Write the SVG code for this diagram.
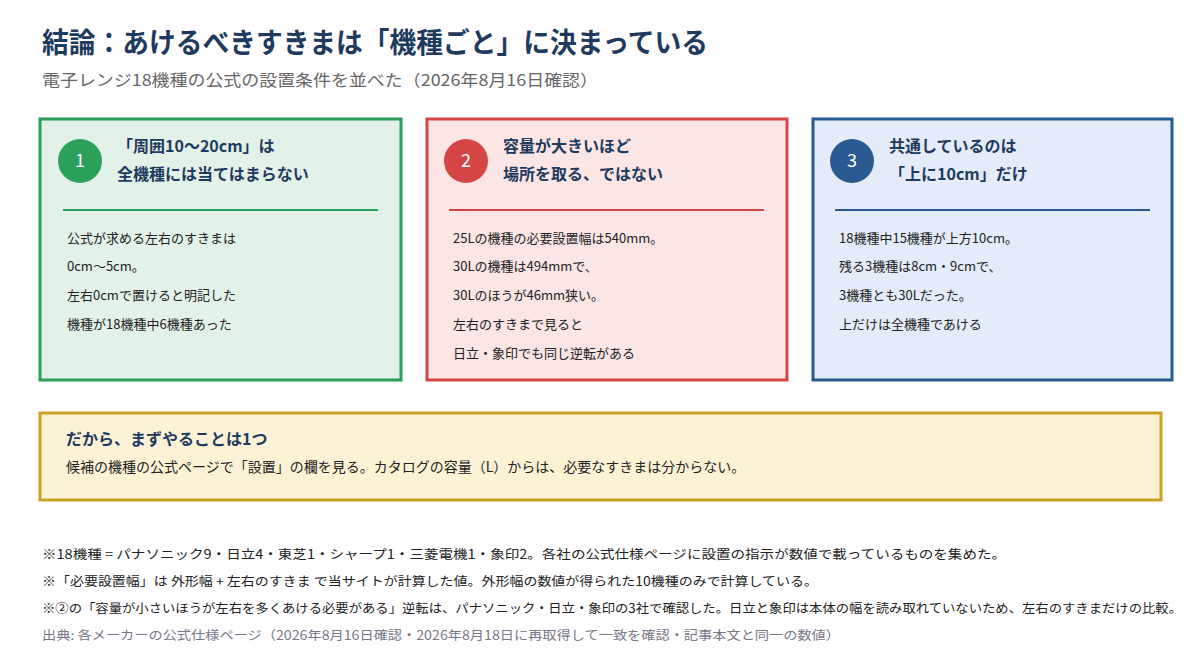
<svg xmlns="http://www.w3.org/2000/svg" width="1200" height="665" viewBox="0 0 1200 665">
<style>
text{font-family:"Noto Sans CJK JP","Noto Sans",sans-serif}
.h{font-size:16px;font-weight:bold;fill:#1f3a5f}
.b{font-size:13px;fill:#222}
.n{font-size:18px;fill:#fff;text-anchor:middle}
.f{font-size:12.5px;fill:#222}
</style>
<rect width="1200" height="665" fill="#fff"/>
<text x="42" y="53" font-weight="bold" fill="#1f3a5f" style="font-size:28px" textLength="666" lengthAdjust="spacingAndGlyphs">結論：あけるべきすきまは「機種ごと」に決まっている</text>
<text x="42" y="86" style="font-size:16px" fill="#666" textLength="556" lengthAdjust="spacingAndGlyphs">電子レンジ18機種の公式の設置条件を並べた（2026年8月16日確認）</text>
<g id="card1">
<rect x="40" y="119" width="361" height="261" fill="#e2f2e8" stroke="#2aa05a" stroke-width="3"/>
<circle cx="80" cy="161" r="22" fill="#2aa05a"/><text class="n" x="80" y="167">1</text>
<text class="h" x="117" y="152">「周囲10〜20cm」は</text>
<text class="h" x="117" y="180">全機種には当てはまらない</text>
<line x1="63" y1="210" x2="378" y2="210" stroke="#2aa05a" stroke-width="2"/>
<text class="b" x="67" y="243">公式が求める左右のすきまは</text>
<text class="b" x="67" y="271">0cm〜5cm。</text>
<text class="b" x="67" y="300">左右0cmで置けると明記した</text>
<text class="b" x="67" y="329">機種が18機種中6機種あった</text>
</g>
<g id="card2">
<rect x="427" y="119" width="360" height="261" fill="#fbe5e5" stroke="#d64545" stroke-width="3"/>
<circle cx="466" cy="161" r="22" fill="#d64545"/><text class="n" x="466" y="167">2</text>
<text class="h" x="503" y="152">容量が大きいほど</text>
<text class="h" x="503" y="180">場所を取る、ではない</text>
<line x1="449" y1="210" x2="764" y2="210" stroke="#d64545" stroke-width="2"/>
<text class="b" x="453" y="243">25Lの機種の必要設置幅は540mm。</text>
<text class="b" x="453" y="271">30Lの機種は494mmで、</text>
<text class="b" x="453" y="300">30Lのほうが46mm狭い。</text>
<text class="b" x="453" y="329">左右のすきまで見ると</text>
<text class="b" x="453" y="358">日立・象印でも同じ逆転がある</text>
</g>
<g id="card3">
<rect x="813" y="119" width="359" height="261" fill="#e3ecf8" stroke="#2a5a94" stroke-width="3"/>
<circle cx="852" cy="161" r="22" fill="#2a5a94"/><text class="n" x="852" y="167">3</text>
<text class="h" x="889" y="152">共通しているのは</text>
<text class="h" x="889" y="180">「上に10cm」だけ</text>
<line x1="835" y1="210" x2="1150" y2="210" stroke="#2a5a94" stroke-width="2"/>
<text class="b" x="839" y="243">18機種中15機種が上方10cm。</text>
<text class="b" x="839" y="271">残る3機種は8cm・9cmで、</text>
<text class="b" x="839" y="300">3機種とも30Lだった。</text>
<text class="b" x="839" y="329">上だけは全機種であける</text>
</g>
<g id="summary">
<rect x="40" y="413" width="1121" height="87" fill="#fcf3d6" stroke="#c9a227" stroke-width="3"/>
<text class="h" x="66" y="445">だから、まずやることは1つ</text>
<text class="b" x="66" y="472" style="font-size:14px">候補の機種の公式ページで「設置」の欄を見る。カタログの容量（L）からは、必要なすきまは分からない。</text>
</g>
<g id="notes">
<text class="f" x="42" y="559" textLength="964" lengthAdjust="spacingAndGlyphs">※18機種 = パナソニック9・日立4・東芝1・シャープ1・三菱電機1・象印2。各社の公式仕様ページに設置の指示が数値で載っているものを集めた。</text>
<text class="f" x="42" y="586" textLength="776" lengthAdjust="spacingAndGlyphs">※「必要設置幅」は 外形幅 + 左右のすきま で当サイトが計算した値。外形幅の数値が得られた10機種のみで計算している。</text>
<text class="f" x="42" y="613" textLength="1140" lengthAdjust="spacingAndGlyphs">※②の「容量が小さいほうが左右を多くあける必要がある」逆転は、パナソニック・日立・象印の3社で確認した。日立と象印は本体の幅を読み取れていないため、左右のすきまだけの比較。</text>
<text class="f" x="42" y="640" style="fill:#778" textLength="798" lengthAdjust="spacingAndGlyphs">出典: 各メーカーの公式仕様ページ（2026年8月16日確認・2026年8月18日に再取得して一致を確認・記事本文と同一の数値）</text>
</g>
<g id="connectors"/>
</svg>
